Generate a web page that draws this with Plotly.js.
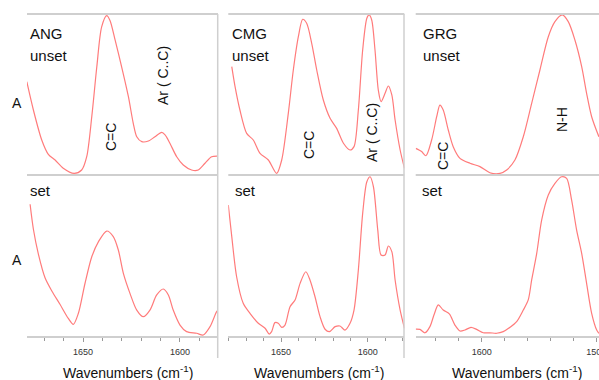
<!DOCTYPE html>
<html>
<head>
<meta charset="utf-8">
<script src="https://cdn.plot.ly/plotly-3.0.1.min.js"></script>
<style>html,body{margin:0;padding:0;background:#fff;}#chart{width:599px;height:380px;}</style>
</head>
<body>
<div id="chart"></div>
<script>
// ANG unset / set
const wnAngUnset = [1679.0,1675.6,1671.3,1667.9,1664.4,1660.2,1654.6,1650.7,1648.1,1645.5,1642.9,1640.4,1637.8,1636.1,1633.5,1630.1,1626.6,1624.1,1622.3,1619.7,1616.3,1612.9,1609.4,1607.7,1605.2,1601.7,1598.3,1594.0,1590.6,1587.1,1583.7,1580.3];
const aAngUnset  = [0.577,0.40,0.2125,0.123,0.0875,0.036,0.004,0.025,0.108,0.358,0.67,0.92,0.99,0.96,0.84,0.67,0.483,0.317,0.233,0.202,0.206,0.233,0.26,0.244,0.192,0.108,0.056,0.025,0.025,0.067,0.108,0.112];
const wnAngSet = [1677.3,1675.6,1673.0,1669.6,1666.1,1661.9,1657.6,1655.0,1652.4,1649.0,1645.5,1642.1,1637.8,1634.4,1631.8,1629.2,1625.8,1622.3,1618.9,1615.5,1612.0,1608.6,1606.0,1603.5,1600.0,1596.6,1591.4,1588.0,1584.5,1581.1,1580.3];
const aAngSet  = [0.818,0.663,0.507,0.362,0.280,0.197,0.109,0.072,0.141,0.326,0.492,0.585,0.652,0.617,0.534,0.389,0.265,0.161,0.120,0.161,0.255,0.292,0.255,0.161,0.068,0.027,0.017,0.006,0.058,0.151,0.161];
// CMG unset / set
const wnCmgUnset = [1678.4,1676.5,1673.7,1669.8,1666.0,1662.1,1657.3,1652.5,1649.6,1645.8,1642.9,1640.0,1637.5,1635.2,1632.3,1629.4,1625.6,1621.7,1617.9,1614.0,1610.2,1607.9,1605.4,1602.9,1600.5,1599.2,1597.7,1595.8,1593.9,1592.3,1590.0,1588.1,1586.1,1584.2,1581.3,1578.8];
const aCmgUnset  = [0.671,0.546,0.40,0.254,0.2125,0.129,0.0875,0.004,0.0875,0.379,0.65,0.858,0.967,0.942,0.817,0.65,0.4625,0.348,0.285,0.192,0.15,0.171,0.40,0.775,0.973,0.994,0.9625,0.775,0.525,0.452,0.504,0.55,0.494,0.3375,0.15,0.035];
const wnCmgSet = [1680.4,1678.4,1675.6,1671.8,1667.9,1663.1,1659.2,1656.8,1655.4,1653.5,1651.6,1649.6,1647.7,1644.8,1641.9,1639.0,1635.7,1633.3,1630.4,1627.5,1624.6,1622.1,1618.8,1616.0,1613.1,1610.2,1607.9,1605.4,1602.9,1600.5,1598.6,1596.7,1594.2,1592.3,1590.0,1588.1,1586.1,1584.2,1581.3,1578.8];
const aCmgSet  = [0.814,0.617,0.368,0.203,0.141,0.079,0.048,0.012,0.027,0.083,0.079,0.054,0.068,0.182,0.224,0.327,0.399,0.348,0.244,0.120,0.042,0.027,0.058,0.062,0.037,0.079,0.161,0.410,0.762,0.958,0.989,0.927,0.658,0.503,0.503,0.559,0.524,0.348,0.161,0.048];
// GRG unset / set
const wnGrgUnset = [1657.5,1652.3,1648.6,1643.6,1639.2,1636.4,1633.5,1629.1,1624.8,1618.9,1610.2,1601.5,1592.8,1584.0,1578.2,1571.0,1563.7,1556.4,1549.2,1541.9,1536.1,1529.7,1524.5,1518.7,1512.8,1508.5,1504.1,1497.8];
const aGrgUnset  = [0.16,0.14,0.114,0.2125,0.358,0.431,0.40,0.275,0.171,0.098,0.067,0.046,0.008,0.004,0.025,0.0875,0.233,0.442,0.65,0.858,0.952,0.994,0.952,0.8375,0.671,0.504,0.358,0.233];
const wnGrgSet = [1657.5,1653.8,1649.4,1645.1,1641.6,1637.8,1633.5,1628.2,1623.3,1618.9,1614.6,1609.3,1604.4,1598.6,1592.8,1586.9,1581.2,1575.3,1569.5,1563.7,1559.4,1556.4,1552.0,1547.7,1541.9,1536.1,1530.3,1525.9,1521.6,1517.2,1512.8,1508.5,1504.1,1499.7,1497.8];
const aGrgSet  = [0.043,0.041,0.020,0.058,0.130,0.193,0.161,0.137,0.068,0.031,0.037,0.054,0.041,0.020,0.020,0.017,0.027,0.054,0.089,0.161,0.224,0.348,0.513,0.720,0.876,0.948,0.989,0.979,0.845,0.658,0.513,0.327,0.141,0.037,0.017];

const sampleNames = ["ANG","CMG","GRG"];
const stateNames = ["unset","set"];
const bandLabels = [
  [{t:"C=C",x:111,y:137},{t:"Ar ( C..C)",x:163,y:76}],
  [{t:"C=C",x:309,y:145},{t:"Ar ( C..C)",x:372,y:133}],
  [{t:"C=C",x:443,y:156},{t:"N-H",x:562,y:120}]
];
const xTitle = "Wavenumbers (cm<sup>-1</sup>)";
const yLabel = "A";

const W = 599, H = 380;
const px = x => x / W;
const py = y => 1 - y / H;
const lineColor = "#ff7b7b";
const gray = "#cfcfcf";
const FONT = "Liberation Sans, Arial, sans-serif";

const cols = [
  {l:27, r:218, range:[1678.9,1580.4], dtick:50, minor:10},
  {l:228.3, r:404.3, range:[1680.4,1578.9], dtick:50, minor:10},
  {l:415.7, r:599, range:[1657.5,1497.7], dtick:100, minor:20}
];
const rows = [{t:14, b:174}, {t:175, b:336}];

const series = [
  [wnAngUnset,aAngUnset],[wnCmgUnset,aCmgUnset],[wnGrgUnset,aGrgUnset],
  [wnAngSet,aAngSet],[wnCmgSet,aCmgSet],[wnGrgSet,aGrgSet]
];

const data = [];
const layout = {
  width: W, height: H,
  margin: {l:0,r:0,t:0,b:0},
  paper_bgcolor: "#fff", plot_bgcolor: "#fff",
  showlegend: false,
  font: {family: FONT, color: "#222"},
  annotations: [], shapes: []
};

for (let r = 0; r < 2; r++) {
  for (let c = 0; c < 3; c++) {
    const i = r*3 + c + 1;
    const xa = "xaxis" + (i===1?"":i), ya = "yaxis" + (i===1?"":i);
    const xr = "x" + (i===1?"":i), yr = "y" + (i===1?"":i);
    const col = cols[c], row = rows[r];
    data.push({
      x: series[r*3+c][0], y: series[r*3+c][1],
      type: "scatter", mode: "lines",
      line: {color: lineColor, width: 1.2, shape: "spline", smoothing: 0.8},
      xaxis: xr, yaxis: yr, hoverinfo: "skip"
    });
    const bottom = r === 1;
    const xaxisObj = {
      domain: [px(col.l), px(col.r)],
      range: col.range, anchor: yr,
      showgrid: false, zeroline: false,
      showline: bottom, linecolor: gray, linewidth: 2,
      ticks: bottom ? "outside" : "", ticklen: 4, tickwidth: 1, tickcolor: "#999",
      tick0: 0, dtick: col.dtick,
      showticklabels: bottom,
      ticklabeloverflow: "allow",
      tickfont: {size: 9, color: "#333", family: FONT},
      ticklabelstandoff: 2,
      fixedrange: true
    };
    if (bottom) xaxisObj.minor = {dtick: col.minor, tick0: 0, ticks: "outside", ticklen: 3, tickcolor: "#999", tickwidth: 1};
    layout[xa] = xaxisObj;
    layout[ya] = {
      domain: [py(row.b), py(row.t)],
      range: [0, 1], anchor: xr,
      showgrid: false, zeroline: false, showline: false,
      showticklabels: false, ticks: "", fixedrange: true
    };
    layout.shapes.push({type:"line", xref:"paper", yref:"paper",
      x0: px(col.l), x1: px(col.r), y0: py(row.t), y1: py(row.t),
      line: {color: gray, width: 2}});
  }
}

[217.7, 404].forEach(x => layout.shapes.push({type:"line", xref:"paper", yref:"paper",
  x0: px(x), x1: px(x), y0: py(14), y1: py(358), line: {color: gray, width: 1.5}}));

const nameX = [28, 230, 420.7];
const setX = [28, 232.7, 420];
for (let c = 0; c < 3; c++) {
  layout.annotations.push({text: sampleNames[c], x: px(nameX[c]), y: py(33), xref:"paper", yref:"paper",
    xanchor:"left", yanchor:"middle", showarrow:false, font:{size:15, color:"#111"}});
  layout.annotations.push({text: stateNames[0], x: px(nameX[c]), y: py(55.5), xref:"paper", yref:"paper",
    xanchor:"left", yanchor:"middle", showarrow:false, font:{size:15, color:"#111"}});
  layout.annotations.push({text: stateNames[1], x: px(setX[c]), y: py(190.5), xref:"paper", yref:"paper",
    xanchor:"left", yanchor:"middle", showarrow:false, font:{size:15, color:"#111"}});
  bandLabels[c].forEach(b => layout.annotations.push({text: b.t, x: px(b.x), y: py(b.y), xref:"paper", yref:"paper",
    xanchor:"center", yanchor:"middle", textangle:-90, showarrow:false, font:{size:14, color:"#111"}}));
}
[128, 319, 517].forEach(x => layout.annotations.push({text: xTitle, x: px(x), y: py(372), xref:"paper", yref:"paper",
  xanchor:"center", yanchor:"middle", showarrow:false, font:{size:14, color:"#111"}}));
[103, 260].forEach(y => layout.annotations.push({text: yLabel, x: px(17), y: py(y), xref:"paper", yref:"paper",
  xanchor:"center", yanchor:"middle", showarrow:false, font:{size:14, color:"#111"}}));

Plotly.newPlot("chart", data, layout, {staticPlot: true, displayModeBar: false});
</script>
</body>
</html>
